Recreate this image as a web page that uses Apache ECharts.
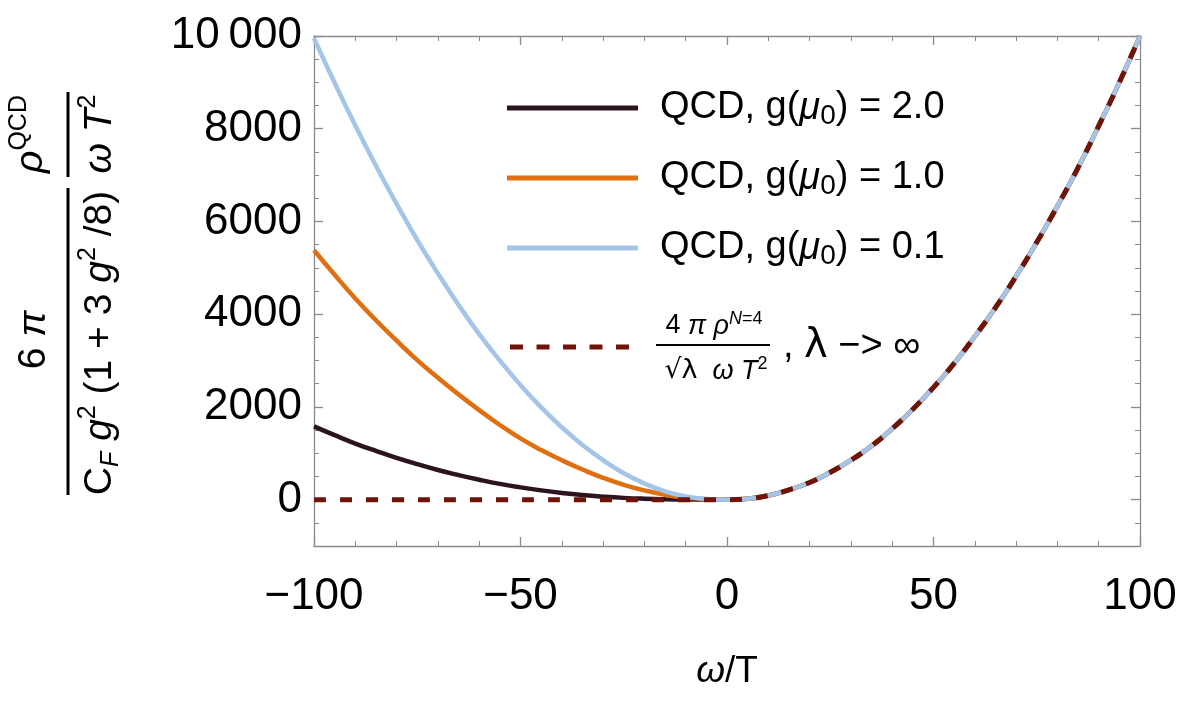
<!DOCTYPE html>
<html>
<head>
<meta charset="utf-8">
<script src="https://cdn.jsdelivr.net/npm/echarts@6/dist/echarts.min.js"></script>
<style>
  html, body { margin: 0; padding: 0; background: #fff; }
  #chart { width: 1183px; height: 701px; }
</style>
</head>
<body>
<div id="chart"></div>
<script>
// omega / T sample points, step 5
var omega = [-100, -95, -90, -85, -80, -75, -70, -65, -60, -55, -50, -45, -40, -35, -30, -25, -20, -15, -10, -5, 0,
             5, 10, 15, 20, 25, 30, 35, 40, 45, 50, 55, 60, 65, 70, 75, 80, 85, 90, 95, 100];
// values: negative-omega branches (-100 .. 0)
var g20Neg = [1580, 1390, 1210, 1050, 900, 765, 640, 530, 430, 340, 265, 200, 145, 100, 65, 38, 20, 9, 3, 1, 0];
var g10Neg = [5380, 4850, 4340, 3870, 3430, 3010, 2630, 2270, 1930, 1610, 1320, 1070, 850, 650, 470, 320, 200, 105, 45, 10, 0];
var g01Neg = [9950, 8990, 8070, 7200, 6380, 5600, 4880, 4200, 3570, 3000, 2470, 1990, 1560, 1180, 850, 570, 350, 180, 70, 15, 0];
var n4Neg = [0, 0, 0, 0, 0, 0, 0, 0, 0, 0, 0, 0, 0, 0, 0, 0, 0, 0, 0, 0, 0];
// positive-omega branch (5 .. 100), all curves lie on top of each other here
var posBranch = [20, 90, 210, 370, 590, 850, 1160, 1530, 1950, 2420, 2940, 3520, 4140, 4820, 5550, 6330, 7160, 8060, 9000, 10000];
var yLabelValues = [0, 2000, 4000, 6000, 8000, 10000];

var frameColor = '#8a8a8a';
var fontMain = 'Liberation Sans';

function pts(neg) {
  var ys = neg.concat(posBranch);
  return omega.map(function (w, i) { return [w, ys[i]]; });
}

var chart = echarts.init(document.getElementById('chart'));

function xAxisOf(pos) {
  return {
    type: 'value', position: pos, min: -100, max: 100, interval: 50,
    axisLine: { show: true, onZero: false, lineStyle: { color: frameColor, width: 1.3 } },
    axisTick: { show: true, inside: true, length: 9, lineStyle: { color: frameColor, width: 1.3 } },
    minorTick: { show: true, splitNumber: 5, length: 5, lineStyle: { color: frameColor, width: 1 } },
    splitLine: { show: false },
    axisLabel: pos === 'bottom' ? {
      show: true, margin: 29, color: '#000', fontFamily: fontMain, fontSize: 44,
      formatter: function (v) { return v < 0 ? '\u2212' + (-v) : String(v); }
    } : { show: false },
    name: pos === 'bottom' ? '{i|ω}{t|/T}' : '',
    nameLocation: 'middle',
    nameGap: 107,
    nameTextStyle: {
      rich: {
        i: { fontFamily: fontMain, fontStyle: 'italic', fontSize: 37, color: '#000' },
        t: { fontFamily: fontMain, fontSize: 37, color: '#000' }
      }
    }
  };
}

function yAxisOf(pos, major) {
  return {
    type: 'value', position: pos, min: -1000, max: 10000, interval: 500,
    axisLine: { show: !major, onZero: false, lineStyle: { color: frameColor, width: 1.3 } },
    axisTick: major
      ? { show: true, inside: true, length: 9, customValues: yLabelValues, lineStyle: { color: frameColor, width: 1.3 } }
      : { show: true, inside: true, length: 5, lineStyle: { color: frameColor, width: 1 } },
    splitLine: { show: false },
    axisLabel: (pos === 'left' && !major) ? {
      show: true, customValues: yLabelValues, margin: 12, color: '#000', fontFamily: fontMain, fontSize: 44,
      formatter: function (v) { return v === 10000 ? '10\u2009000' : String(v); }
    } : { show: false }
  };
}

var legendRich = {
  gap: { width: 17 },
  gap2: { width: 27 },
  fr: { width: 122 },
  t: { fontFamily: fontMain, fontSize: 38, lineHeight: 44, color: '#000' },
  m: { fontFamily: fontMain, fontStyle: 'italic', fontSize: 38, lineHeight: 44, color: '#000' },
  s: { fontFamily: fontMain, fontSize: 28, lineHeight: 24, verticalAlign: 'bottom', color: '#000' },
  lam: { fontFamily: 'DejaVu Sans', fontSize: 40, lineHeight: 44, color: '#000' }
};
var legendText = {
  g20: '{gap| }{t|QCD, g(}{m|μ}{s|0}{t|) = 2.0}',
  g10: '{gap| }{t|QCD, g(}{m|μ}{s|0}{t|) = 1.0}',
  g01: '{gap| }{t|QCD, g(}{m|μ}{s|0}{t|) = 0.1}',
  n4: '{gap2| }{fr| }{t|, }{lam|λ}{t| \u2212> ∞}'
};

var titleRich = {
  t: { fontFamily: fontMain, fontSize: 39, lineHeight: 48, color: '#000' },
  i: { fontFamily: fontMain, fontStyle: 'italic', fontSize: 39, lineHeight: 48, color: '#000' },
  p: { fontFamily: fontMain, fontSize: 25, lineHeight: 22, verticalAlign: 'top', color: '#000' },
  s: { fontFamily: fontMain, fontStyle: 'italic', fontSize: 25, lineHeight: 24, verticalAlign: 'bottom', color: '#000' }
};
var fracRich = {
  t: { fontFamily: fontMain, fontSize: 27, lineHeight: 32, color: '#000' },
  i: { fontFamily: fontMain, fontStyle: 'italic', fontSize: 27, lineHeight: 32, color: '#000' },
  p: { fontFamily: fontMain, fontStyle: 'italic', fontSize: 18, lineHeight: 14, verticalAlign: 'top', color: '#000' },
  q: { fontFamily: fontMain, fontSize: 18, lineHeight: 14, verticalAlign: 'top', color: '#000' },
  r: { fontFamily: 'DejaVu Sans', fontSize: 27, lineHeight: 32, color: '#000' }
};

function rotText(x, y, text) {
  return {
    type: 'text', x: x, y: y, rotation: Math.PI / 2,
    style: { text: text, align: 'center', verticalAlign: 'middle', rich: titleRich }
  };
}

var dashIcon = 'path://M0,0h13v5h-13z M26.5,0h13v5h-13z M53,0h13v5h-13z M79.5,0h13v5h-13z M106,0h13v5h-13z';

var option = {
  animation: false,
  backgroundColor: '#fff',
  grid: { left: 314, top: 36, width: 826, height: 510, containLabel: false, outerBoundsMode: 'none' },
  xAxis: [xAxisOf('bottom'), xAxisOf('top')],
  yAxis: [yAxisOf('left', false), yAxisOf('left', true), yAxisOf('right', false), yAxisOf('right', true)],
  legend: [
    {
      data: ['g20', 'g10', 'g01'], orient: 'vertical', left: 502, top: 84,
      icon: 'rect', itemWidth: 131, itemHeight: 5, itemGap: 29, selectedMode: false,
      formatter: function (n) { return legendText[n]; },
      textStyle: { rich: legendRich }
    },
    {
      data: ['n4'], orient: 'vertical', left: 505, top: 322,
      icon: dashIcon, itemWidth: 119, itemHeight: 5, selectedMode: false,
      formatter: function (n) { return legendText[n]; },
      textStyle: { rich: legendRich }
    }
  ],
  series: [
    {
      name: 'g20', type: 'line', smooth: true, symbol: 'none', data: pts(g20Neg),
      lineStyle: { color: '#2b1320', width: 4.5 }, itemStyle: { color: '#2b1320' }
    },
    {
      name: 'g10', type: 'line', smooth: true, symbol: 'none', data: pts(g10Neg),
      lineStyle: { color: '#e0700f', width: 4.5 }, itemStyle: { color: '#e0700f' }
    },
    {
      name: 'g01', type: 'line', smooth: true, symbol: 'none', data: pts(g01Neg),
      lineStyle: { color: '#a4c4e8', width: 4.5 }, itemStyle: { color: '#a4c4e8' }
    },
    {
      name: 'n4', type: 'line', smooth: true, symbol: 'none', data: pts(n4Neg),
      lineStyle: { color: '#6e1408', width: 5, type: [12, 14] }, itemStyle: { color: '#6e1408' }
    }
  ],
  graphic: [
    // y-axis label: (6π / C_F g²(1+3g²/8)) · (ρ^QCD / ω T²)
    rotText(34, 340, '{t|6 }{i|π}'),
    { type: 'line', shape: { x1: 68, y1: 188, x2: 68, y2: 495 }, style: { stroke: '#000', lineWidth: 3 } },
    rotText(100, 343, '{t|C}{s|F}{t| }{i|g}{p|2}{t| (1 + 3 }{i|g}{p|2}{t| /8)}'),
    rotText(31, 134, '{i|ρ}{p|QCD}'),
    { type: 'line', shape: { x1: 68, y1: 92, x2: 68, y2: 177 }, style: { stroke: '#000', lineWidth: 3 } },
    rotText(100, 134, '{i|ω T}{p|2}'),
    // legend fraction for the N=4 curve
    {
      type: 'text', x: 714, y: 326,
      style: { text: '{t|4 }{i|π ρ}{p|N}{q|=4}', align: 'center', verticalAlign: 'middle', rich: fracRich }
    },
    { type: 'line', shape: { x1: 656, y1: 345, x2: 770, y2: 345 }, style: { stroke: '#000', lineWidth: 2 } },
    {
      type: 'text', x: 716, y: 371,
      style: { text: '{r|\u221Aλ}{i|  ω T}{q|2}', align: 'center', verticalAlign: 'middle', rich: fracRich }
    }
  ]
};

chart.setOption(option);
</script>
</body>
</html>
